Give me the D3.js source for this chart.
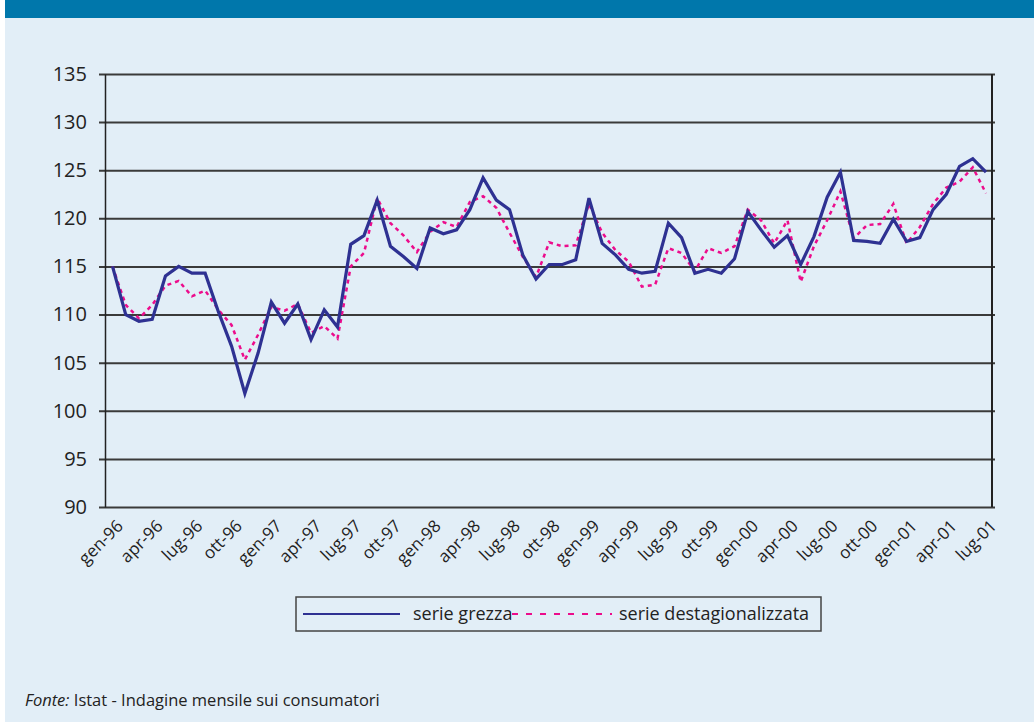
<!DOCTYPE html>
<html><head><meta charset="utf-8">
<script src="https://cdn.jsdelivr.net/npm/d3@7"></script>
<style>
html,body{margin:0;padding:0;background:#fff;}
svg{display:block;}
</style></head>
<body>
<svg id="c" width="1034" height="722"></svg>
<script>
const years = ["96","97","98","99","00","01"];
const monthNames = ["gen","feb","mar","apr","mag","giu","lug","ago","set","ott","nov","dic"];
const tickLabels = ["gen-96","apr-96","lug-96","ott-96","gen-97","apr-97","lug-97","ott-97","gen-98","apr-98","lug-98","ott-98","gen-99","apr-99","lug-99","ott-99","gen-00","apr-00","lug-00","ott-00","gen-01","apr-01","lug-01"];
const yTicks = [90,95,100,105,110,115,120,125,130,135];
const serieGrezza = [
 115.0,110.0,109.3,109.5,114.0,115.0,114.3,114.3,110.3,106.7,101.8,106.0,
 111.3,109.1,111.1,107.4,110.5,108.7,117.3,118.2,121.9,117.1,116.0,114.8,
 119.0,118.4,118.8,120.9,124.2,121.9,120.9,116.2,113.7,115.2,115.2,115.7,
 122.1,117.4,116.2,114.7,114.3,114.5,119.5,118.0,114.3,114.7,114.3,115.8,
 120.7,118.8,117.0,118.2,115.2,118.1,122.2,124.8,117.7,117.6,117.4,119.9,
 117.6,118.0,120.9,122.5,125.4,126.2,124.8];
const serieDestag = [
 115.0,111.0,109.6,111.0,113.0,113.5,111.9,112.5,110.5,108.9,105.3,107.9,
 110.8,110.4,111.1,108.1,108.8,107.5,115.0,116.4,122.1,119.5,118.2,116.5,
 118.6,119.6,119.1,121.7,122.3,121.1,118.5,116.0,113.9,117.5,117.1,117.2,
 121.5,118.5,116.7,115.5,112.9,113.1,116.9,116.4,114.5,116.9,116.4,117.1,
 120.9,119.8,117.4,119.8,113.4,117.1,119.8,122.8,117.9,119.3,119.4,121.5,
 117.4,119.1,121.5,123.2,123.8,125.3,122.6];
const seriesNames = ["serie grezza","serie destagionalizzata"];
const sourceLabel = "Istat - Indagine mensile sui consumatori";

const months = [];
years.forEach(yy=>monthNames.forEach(m=>{ if(months.length < serieGrezza.length) months.push(m+"-"+yy); }));

const FONT = "'Open Sans', 'DejaVu Sans', sans-serif";
const svg = d3.select("#c");
svg.append("rect").attr("x",5).attr("y",0).attr("width",1029).attr("height",722).attr("fill","#E2EEF7");
svg.append("rect").attr("x",5).attr("y",0).attr("width",1029).attr("height",18).attr("fill","#0077AB");

const pL=105, pR=992, pT=74, pB=507;
const x = d3.scalePoint().domain(months).range([112.5, 986]);
const y = d3.scaleLinear().domain([90,135]).range([pB, pT]);

// grid lines
const gy = svg.append("g").attr("transform",`translate(${pR+3},0)`)
  .call(d3.axisLeft(y).tickValues(yTicks).tickSize(pR+3-pL+6).tickFormat(""));
gy.select(".domain").remove();
gy.selectAll(".tick line").attr("stroke","#3a3a3a").attr("stroke-width",2);

// y axis
const ya = svg.append("g").attr("transform",`translate(${pL},0)`)
  .call(d3.axisLeft(y).tickValues(yTicks).tickSize(0).tickPadding(18));
ya.select(".domain").attr("stroke","#222").attr("stroke-width",1.5);
ya.selectAll("text").attr("font-family",FONT).attr("font-size",20).attr("fill","#222");

// right border
svg.append("line").attr("x1",pR).attr("x2",pR).attr("y1",pT).attr("y2",pB)
  .attr("stroke","#222").attr("stroke-width",2);

// x axis
const xa = svg.append("g").attr("transform",`translate(0,${pB})`)
  .call(d3.axisBottom(x).tickValues(tickLabels).tickSize(0).tickFormat(d=>d));
xa.select(".domain").remove();
xa.selectAll("text")
  .attr("font-family",FONT).attr("font-size",17).attr("fill","#222")
  .attr("text-anchor","end")
  .attr("transform","translate(9,18) rotate(-45)")
  .attr("dy","0");

const line = d3.line().x((d,i)=>x(months[i])).y(d=>y(d));
svg.append("path").datum(serieDestag).attr("d",line).attr("fill","none")
  .attr("stroke","#EC0C8C").attr("stroke-width",2.5).attr("stroke-dasharray","4,4");
svg.append("path").datum(serieGrezza).attr("d",line).attr("fill","none")
  .attr("stroke","#2E3192").attr("stroke-width",3.2).attr("stroke-linejoin","miter");

// legend
const lg = svg.append("g");
lg.append("rect").attr("x",296).attr("y",597).attr("width",525).attr("height",34)
  .attr("fill","none").attr("stroke","#444").attr("stroke-width",1.5);
lg.append("line").attr("x1",303).attr("x2",400).attr("y1",614).attr("y2",614)
  .attr("stroke","#2E3192").attr("stroke-width",2.2);
lg.append("text").attr("x",413).attr("y",620).text(seriesNames[0])
  .attr("font-family",FONT).attr("font-size",18).attr("fill","#222");
lg.append("line").attr("x1",512).attr("x2",612).attr("y1",614).attr("y2",614)
  .attr("stroke","#EC0C8C").attr("stroke-width",2).attr("stroke-dasharray","6,8");
lg.append("text").attr("x",619).attr("y",620).text(seriesNames[1])
  .attr("font-family",FONT).attr("font-size",18).attr("fill","#222");

// source
const src = svg.append("text").attr("x",25).attr("y",706)
  .attr("font-family",FONT).attr("font-size",16.5).attr("fill","#222");
src.append("tspan").attr("font-style","italic").text("Fonte:");
src.append("tspan").text(" " + sourceLabel);
</script>
</body></html>
